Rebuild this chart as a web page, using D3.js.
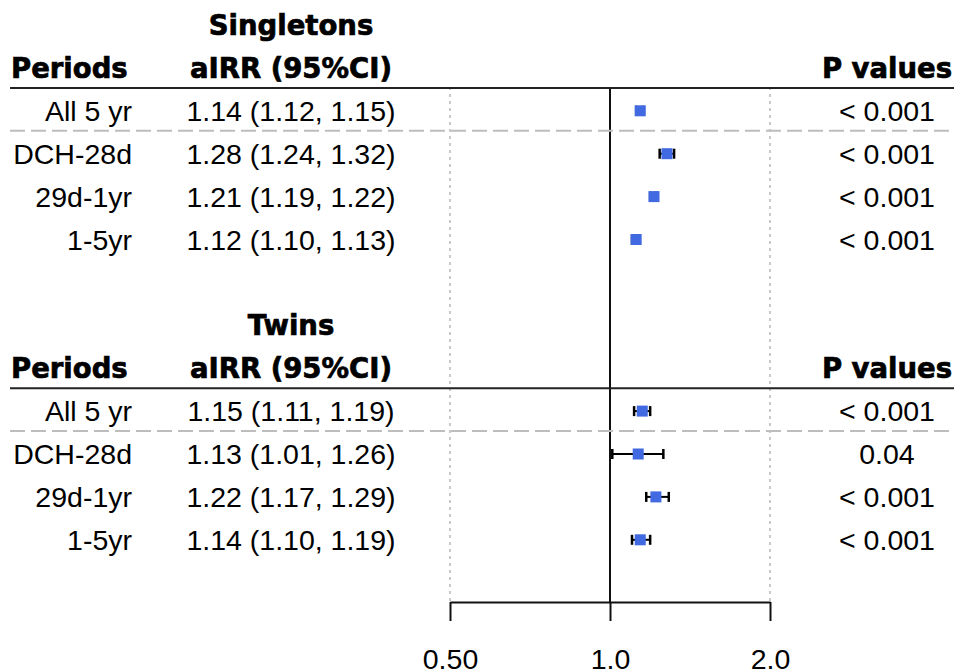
<!DOCTYPE html>
<html>
<head>
<meta charset="utf-8">
<script src="https://cdn.jsdelivr.net/npm/d3@7"></script>
<style>
  body { margin: 0; background: #fff; }
  text { fill: #000; }
  .reg { font-family: "Liberation Sans", Arial, sans-serif; font-size: 28.5px; }
  .bold { font-family: "DejaVu Sans", sans-serif; font-weight: bold; font-size: 27.5px; stroke: #000; stroke-width: 0.7px; }
</style>
</head>
<body>
<svg id="chart" width="959" height="672"></svg>
<script>
    // *** Data ***
    var periods = ["All 5 yr", "DCH-28d", "29d-1yr", "1-5yr"];

    var singletonEst = [1.14, 1.28, 1.21, 1.12];
    var singletonLow = [1.12, 1.24, 1.19, 1.10];
    var singletonHigh = [1.15, 1.32, 1.22, 1.13];
    var singletonP = ["< 0.001", "< 0.001", "< 0.001", "< 0.001"];

    var twinEst = [1.15, 1.13, 1.22, 1.14];
    var twinLow = [1.11, 1.01, 1.17, 1.10];
    var twinHigh = [1.19, 1.26, 1.29, 1.19];
    var twinP = ["< 0.001", "0.04", "< 0.001", "< 0.001"];

    var groups = ["Singletons", "Twins"];
    var xTicks = [0.5, 1, 2];
    var xTickLabels = ["0.50", "1.0", "2.0"];

    // *** Layout ***
    var svg = d3.select("#chart");
    var fmt = d3.format(".2f");

    // row index -> centre y (14 table rows incl. blanks)
    var row = d3.scaleLinear().domain([0, 13]).range([25, 25 + 42.9 * 13]);

    var x = d3.scaleLog().base(2).domain([0.5, 2]).range([450, 770]);

    var colPeriod = 132, colIRR = 291, colP = 887;
    var plotTop = 87, axisY = 602;
    var boxSize = 11;

    var tables = [
        {title: groups[0], start: 0, est: singletonEst, low: singletonLow, high: singletonHigh, p: singletonP},
        {title: groups[1], start: 7, est: twinEst, low: twinLow, high: twinHigh, p: twinP}
    ];

    var gridG = svg.append("g");
    var tableG = svg.append("g");
    var markG = svg.append("g");

    // dotted grid at 0.5 and 2
    gridG.selectAll(".grid").data([0.5, 2]).enter().append("line")
        .attr("x1", d => x(d)).attr("x2", d => x(d))
        .attr("y1", plotTop).attr("y2", axisY)
        .attr("stroke", "#b8b8b8").attr("stroke-width", 1.5)
        .attr("stroke-dasharray", "3,4");

    tables.forEach(function(t) {
        var s = t.start;
        // titles
        tableG.append("text").attr("class", "bold")
            .attr("x", colIRR).attr("y", row(s) + 10)
            .attr("text-anchor", "middle").text(t.title);
        tableG.append("text").attr("class", "bold")
            .attr("x", 11).attr("y", row(s + 1) + 10).text("Periods");
        tableG.append("text").attr("class", "bold")
            .attr("x", colIRR).attr("y", row(s + 1) + 10)
            .attr("text-anchor", "middle").text("aIRR (95%CI)");
        tableG.append("text").attr("class", "bold")
            .attr("x", colP).attr("y", row(s + 1) + 10)
            .attr("text-anchor", "middle").text("P values");

        // header line and dashed separator
        tableG.append("line")
            .attr("x1", 10).attr("x2", 954)
            .attr("y1", row(s + 1) + 20).attr("y2", row(s + 1) + 20)
            .attr("stroke", "#222").attr("stroke-width", 2);
        tableG.append("line")
            .attr("x1", 10).attr("x2", 952)
            .attr("y1", row(s + 2) + 20).attr("y2", row(s + 2) + 20)
            .attr("stroke", "#bdbdbd").attr("stroke-width", 2)
            .attr("stroke-dasharray", "15,6");

        var rows = periods.map((p, i) => ({
            period: p, est: t.est[i], low: t.low[i], high: t.high[i], p: t.p[i], y: row(s + 2 + i)
        }));

        var rg = tableG.selectAll(null).data(rows).enter().append("g");
        rg.append("text").attr("class", "reg")
            .attr("x", colPeriod).attr("y", d => d.y + 10)
            .attr("text-anchor", "end").text(d => d.period);
        rg.append("text").attr("class", "reg")
            .attr("x", colIRR).attr("y", d => d.y + 10)
            .attr("text-anchor", "middle")
            .text(d => fmt(d.est) + " (" + fmt(d.low) + ", " + fmt(d.high) + ")");
        rg.append("text").attr("class", "reg")
            .attr("x", colP).attr("y", d => d.y + 10)
            .attr("text-anchor", "middle").text(d => d.p);

        // confidence intervals
        var mg = markG.selectAll(null).data(rows).enter().append("g");
        mg.append("line")
            .attr("x1", d => x(d.low)).attr("x2", d => x(d.high))
            .attr("y1", d => d.y).attr("y2", d => d.y)
            .attr("stroke", "#000").attr("stroke-width", 2);
        ["low", "high"].forEach(function(k) {
            mg.append("line")
                .attr("x1", d => x(d[k])).attr("x2", d => x(d[k]))
                .attr("y1", d => d.y - 5).attr("y2", d => d.y + 5)
                .attr("stroke", "#000").attr("stroke-width", 2.5);
        });
        mg.append("rect")
            .attr("x", d => x(d.est) - boxSize / 2)
            .attr("y", d => d.y - boxSize / 2)
            .attr("width", boxSize).attr("height", boxSize)
            .attr("fill", "#4169e1");
    });

    // reference line at 1
    gridG.append("line")
        .attr("x1", x(1)).attr("x2", x(1))
        .attr("y1", plotTop).attr("y2", axisY)
        .attr("stroke", "#111").attr("stroke-width", 2);

    // x axis
    var xAxis = d3.axisBottom(x)
        .tickValues(xTicks)
        .tickFormat((d, i) => xTickLabels[i])
        .tickSize(19)
        .tickPadding(28)
        .tickSizeOuter(0);

    var xAxisG = svg.append("g")
        .attr("transform", "translate(0," + axisY + ")")
        .call(xAxis);
    xAxisG.select(".domain").attr("stroke", "#111").attr("stroke-width", 2);
    xAxisG.selectAll(".tick line").attr("stroke", "#111").attr("stroke-width", 2);
    xAxisG.selectAll(".tick text")
        .attr("class", "reg")
        .attr("fill", "#000")
        .style("font-size", "28.5px");
</script>
</body>
</html>
